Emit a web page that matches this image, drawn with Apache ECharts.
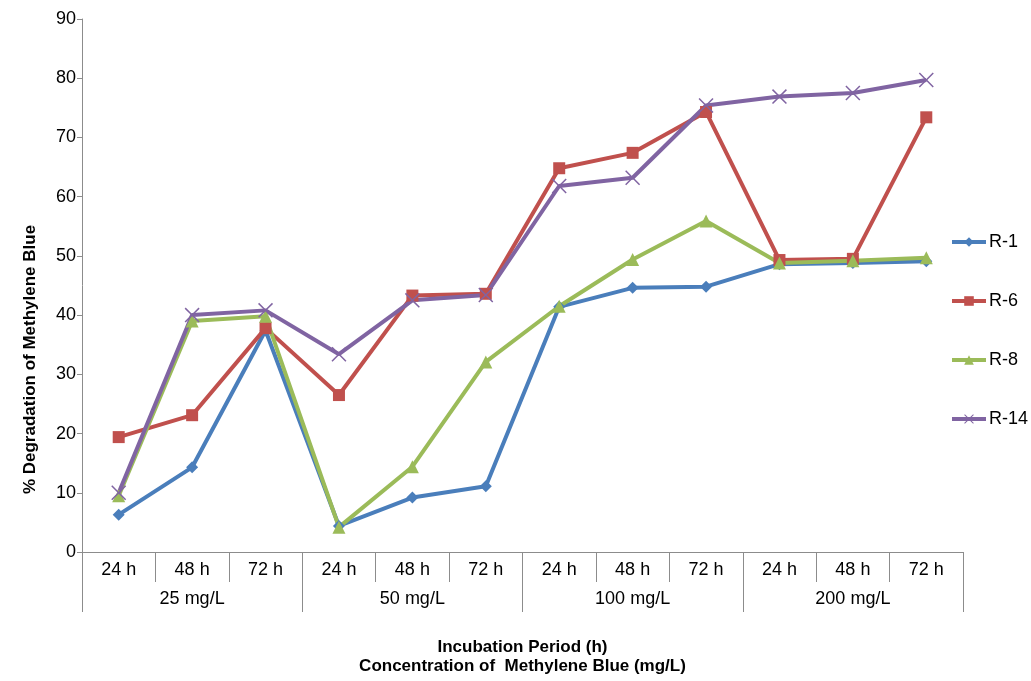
<!DOCTYPE html>
<html>
<head>
<meta charset="utf-8">
<title>Degradation of Methylene Blue</title>
<script src="https://cdn.jsdelivr.net/npm/echarts@6/dist/echarts.min.js"></script>
<style>
  html, body { margin: 0; padding: 0; background: #fff; }
  #chart { width: 1031px; height: 681px; }
</style>
</head>
<body>
<div id="chart"></div>
<script>
// Incubation periods repeated for every concentration
const periods = ['24 h', '48 h', '72 h', '24 h', '48 h', '72 h', '24 h', '48 h', '72 h', '24 h', '48 h', '72 h'];
const concentrations = ['25 mg/L', '50 mg/L', '100 mg/L', '200 mg/L'];

// % degradation of methylene blue per isolate
const r1  = [6.3, 14.3, 37.4, 4.4, 9.2, 11.1, 41.4, 44.6, 44.8, 48.6, 48.8, 49.1];
const r6  = [19.4, 23.1, 37.8, 26.5, 43.3, 43.6, 64.8, 67.4, 74.3, 49.3, 49.5, 73.4];
const r8  = [9.5, 39.0, 39.8, 4.2, 14.4, 32.1, 41.5, 49.4, 55.9, 48.8, 49.2, 49.7];
const r14 = [10.0, 40.0, 40.8, 33.4, 42.5, 43.4, 61.8, 63.2, 75.4, 76.9, 77.5, 79.7];

const yTicks = { min: 0, max: 90, interval: 10 };

// thin "x" marker
const crossSymbol = 'path://M0,1L1,0L7,6L13,0L14,1L8,7L14,13L13,14L7,8L1,14L0,13L6,7Z';

const font = 'Liberation Sans, Arial, sans-serif';
const axisGray = '#8c8c8c';

function lineSeries(name, data, color, symbol, size) {
  return {
    name: name,
    type: 'line',
    data: data,
    xAxisIndex: 0,
    symbol: symbol,
    symbolSize: size,
    showSymbol: true,
    lineStyle: { color: color, width: 4 },
    itemStyle: { color: color },
    emphasis: { disabled: true },
    animation: false
  };
}

const chart = echarts.init(document.getElementById('chart'), null, { renderer: 'canvas' });

chart.setOption({
  backgroundColor: '#ffffff',
  textStyle: { fontFamily: font },
  grid: { left: 82, right: 68, top: 19, bottom: 122, containLabel: false },
  legend: {
    orient: 'vertical',
    left: 945,
    top: 228,
    itemWidth: 34,
    itemHeight: 12,
    itemGap: 41,
    lineStyle: { width: 4 },
    textStyle: { fontFamily: font, fontSize: 18, color: '#000', padding: [0, 0, 0, -2] },
    data: ['R-1', 'R-6', 'R-8', 'R-14']
  },
  xAxis: [
    {
      type: 'category',
      data: periods,
      position: 'bottom',
      boundaryGap: true,
      axisLine: { show: true, lineStyle: { color: axisGray, width: 1 } },
      axisTick: { show: true, interval: 0, length: 30, lineStyle: { color: axisGray } },
      axisLabel: { interval: 0, margin: 9, fontSize: 18, color: '#000', fontFamily: font },
      splitLine: { show: false }
    },
    {
      type: 'category',
      data: concentrations,
      position: 'bottom',
      offset: 30,
      boundaryGap: true,
      axisLine: { show: false },
      axisTick: { show: true, interval: 0, length: 30, lineStyle: { color: axisGray } },
      axisLabel: { interval: 0, margin: 8, fontSize: 18, color: '#000', fontFamily: font },
      splitLine: { show: false },
      name: 'Incubation Period (h)\nConcentration of  Methylene Blue (mg/L)',
      nameLocation: 'middle',
      nameGap: 56,
      nameTextStyle: { fontSize: 17, fontWeight: 'bold', color: '#000', fontFamily: font, lineHeight: 19, align: 'center' }
    }
  ],
  yAxis: {
    type: 'value',
    min: yTicks.min,
    max: yTicks.max,
    interval: yTicks.interval,
    axisLine: { show: true, lineStyle: { color: axisGray, width: 1 } },
    axisTick: { show: true, length: 5, lineStyle: { color: axisGray } },
    axisLabel: { margin: 6, fontSize: 18, color: '#000', fontFamily: font },
    splitLine: { show: false },
    name: '% Degradation of Methylene Blue',
    nameLocation: 'middle',
    nameGap: 43,
    nameRotate: 90,
    nameTextStyle: { fontSize: 17, fontWeight: 'bold', color: '#000', fontFamily: font, padding: [0, 148, 0, 0] }
  },
  series: [
    lineSeries('R-1', r1, '#4a7ebb', 'diamond', 12),
    lineSeries('R-6', r6, '#c0504d', 'rect', 12),
    lineSeries('R-8', r8, '#9bbb59', 'triangle', 13),
    lineSeries('R-14', r14, '#8064a2', crossSymbol, 15)
  ]
});
</script>
</body>
</html>
